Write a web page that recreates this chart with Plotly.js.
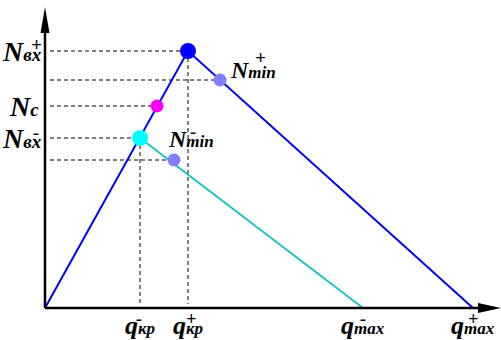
<!DOCTYPE html>
<html>
<head>
<meta charset="utf-8">
<script src="https://cdn.plot.ly/plotly-3.0.1.min.js"></script>
<style>
  html, body { margin: 0; padding: 0; background: #fff; }
  #chart { width: 501px; height: 340px; }
</style>
</head>
<body>
<div id="chart"></div>
<script>
// Flow rate q on the horizontal axis, force N on the vertical axis.
const qKr = [95, 143];        // q_кр-, q_кр+
const qMax = [318, 428];      // q_max-, q_max+
const nEx = [170, 257];       // N_вх-, N_вх+
const nMin = [148, 228];      // N_min-, N_min+
const qMinPts = [129, 175];   // q at N_min-, N_min+
const nC = 202;               // N_c
const qC = 112;               // q at N_c

const qTickSubs = ['кр', 'кр', 'max', 'max'];
const qTickSigns = ['-', '+', '-', '+'];

const BLUE = '#0000ff';
const TEAL = '#1cc4c4';
const LILAC = '#8080ff';

const dashed = { color: '#000', width: 1, dash: '4px,3px' };

function seg(x, y, line) {
  return { x: x, y: y, mode: 'lines', line: line, hoverinfo: 'skip', showlegend: false };
}
function dot(x, y, color, size) {
  return { x: [x], y: [y], mode: 'markers', marker: { color: color, size: size }, hoverinfo: 'skip', showlegend: false };
}

const x0 = 5; // dashed guides start just right of the N axis
const traces = [
  // horizontal guides
  seg([x0, qKr[1]], [nEx[1], nEx[1]], dashed),
  seg([x0, qMinPts[1]], [nMin[1], nMin[1]], dashed),
  seg([x0, qC], [nC, nC], dashed),
  seg([x0, qKr[0]], [nEx[0], nEx[0]], dashed),
  seg([x0, qMinPts[0]], [nMin[0], nMin[0]], dashed),
  // vertical guides
  seg([qKr[0], qKr[0]], [nEx[0], 4], dashed),
  seg([qKr[1], qKr[1]], [nEx[1], 4], dashed),
  // characteristics
  seg([qKr[0], qMax[0]], [nEx[0], 0], { color: TEAL, width: 2 }),
  seg([0, qKr[1], qMax[1]], [0, nEx[1], 0], { color: BLUE, width: 2 }),
  // points
  dot(qKr[1], nEx[1], BLUE, 16),
  dot(qMinPts[1], nMin[1], LILAC, 13),
  dot(qC, nC, '#ff00ff', 13),
  dot(qKr[0], nEx[0], '#00ffff', 16),
  dot(qMinPts[0], nMin[0], LILAC, 13)
];

const F = 'Liberation Serif, Times New Roman, serif';
function lab(main, sub, subSize) {
  return main + '<span style="font-size:' + subSize + 'px">' + sub + '</span>';
}
function ann(text, x, y, xanchor, size) {
  return {
    text: text, x: x, y: y, xref: 'x', yref: 'y',
    xanchor: xanchor, yanchor: 'middle', showarrow: false,
    borderpad: 0, borderwidth: 0,
    font: { family: F, size: size, color: '#000', weight: 'bold', style: 'italic' }
  };
}

const annotations = [
  ann(lab('N', 'вх', 19), -3, nEx[1], 'right', 28),
  ann('+', -9, nEx[1] + 7, 'center', 19),
  ann(lab('N', 'c', 19), -6, nC, 'right', 28),
  ann(lab('N', 'вх', 19), -3, nEx[0], 'right', 28),
  ann('-', -9, nEx[0] + 6, 'center', 19),
  ann(lab('N', 'min', 17), 185, nMin[1] + 10, 'left', 24),
  ann('+', 215, nMin[1] + 23, 'center', 19),
  ann(lab('N', 'min', 17), 123, nEx[0] - 1, 'left', 24),
  ann('-', 148, nEx[0] + 7, 'center', 19)
];

const qTicks = [qKr[0], qKr[1], qMax[0], qMax[1]];
qTicks.forEach(function (q, i) {
  annotations.push(ann(lab('q', qTickSubs[i], 17), q, -17, 'center', 26));
  annotations.push(ann(qTickSigns[i], q + (i === 0 ? -1 : (i === 1 ? 3 : 0)), -11, 'center', 18));
});

// axes drawn as heavy lines with filled arrowheads
const shapes = [
  { type: 'line', xref: 'x', yref: 'y', x0: 0, x1: 0, y0: 0, y1: 282, line: { color: '#000', width: 2.5 } },
  { type: 'line', xref: 'x', yref: 'y', x0: 0, x1: 440, y0: 0, y1: 0, line: { color: '#000', width: 2.5 } },
  { type: 'path', xref: 'x', yref: 'y', path: 'M -4.5 275 L 0 301 L 4.5 275 Z', fillcolor: '#000', line: { width: 0 } },
  { type: 'path', xref: 'x', yref: 'y', path: 'M 433 -5 L 456 0 L 433 5 Z', fillcolor: '#000', line: { width: 0 } }
];

const layout = {
  width: 501, height: 340,
  margin: { l: 5, r: 0, t: 0, b: 0, pad: 0 },
  paper_bgcolor: '#fff', plot_bgcolor: '#fff',
  xaxis: { range: [-40, 456], visible: false, fixedrange: true },
  yaxis: { range: [-32, 308], visible: false, fixedrange: true },
  showlegend: false,
  shapes: shapes,
  annotations: annotations
};

Plotly.newPlot('chart', traces, layout, { staticPlot: true, displayModeBar: false });
</script>
</body>
</html>
